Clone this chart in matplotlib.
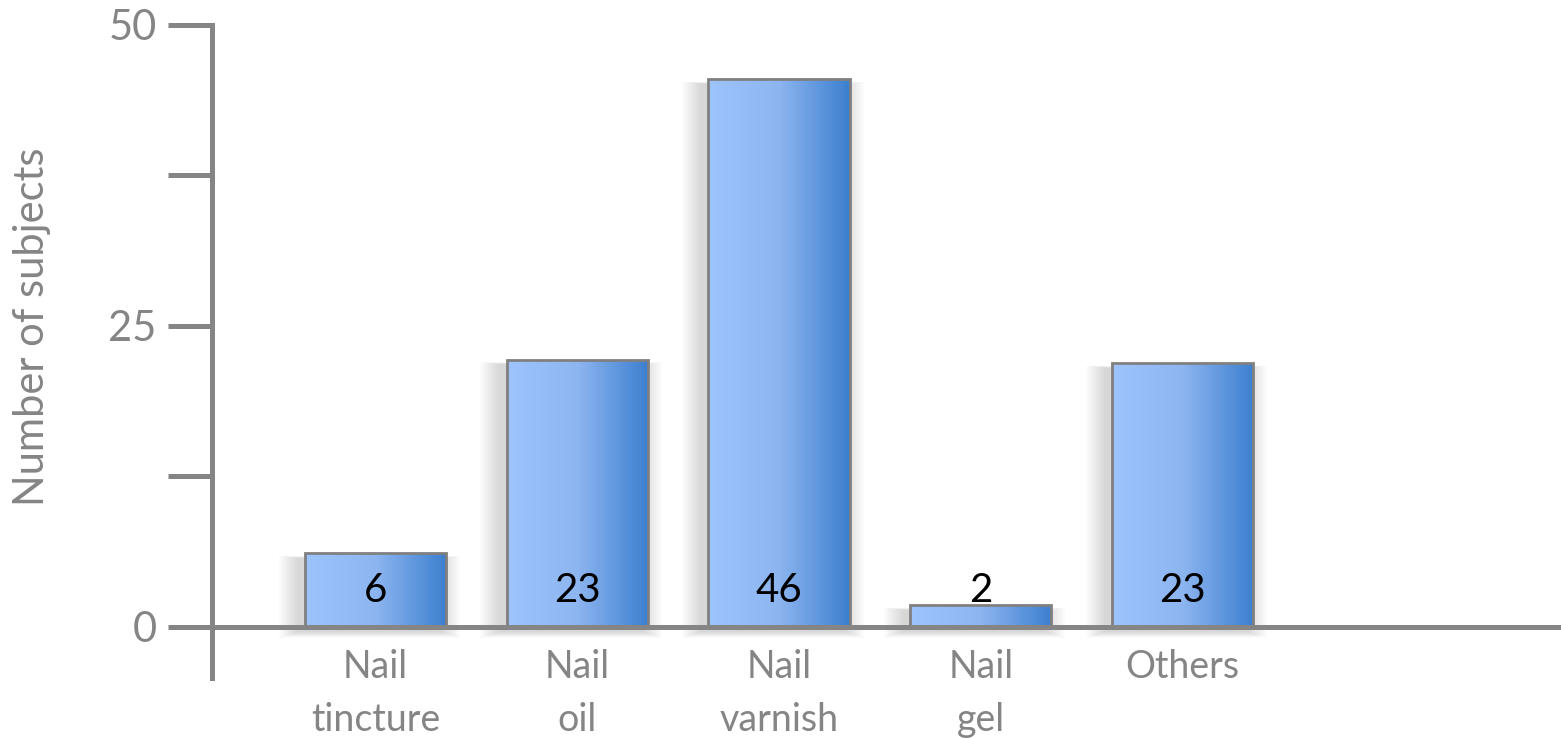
import numpy as np
import matplotlib.pyplot as plt
from matplotlib.patches import Rectangle
from matplotlib.colors import LinearSegmentedColormap

# data
categories = ["Nail\ntincture", "Nail\noil", "Nail\nvarnish", "Nail\ngel", "Others"]
heights = [6.1, 22.2, 45.5, 1.8, 21.9]
labels = ["6", "23", "46", "2", "23"]
yticks = [0, 12.5, 25, 37.5, 50]
yticklabels = ["0", "", "25", "", "50"]

plt.rcParams['font.family'] = ['Lato', 'DejaVu Sans']
grey = '#858585'
cmap = LinearSegmentedColormap.from_list('bar', ['#9dc4fd', '#8db5f0', '#3c7fcf'])
grad = np.linspace(0, 1, 256).reshape(1, -1)

fig = plt.figure(figsize=(15.61, 7.38), dpi=100)
ax = fig.add_axes([212/1561, 1 - 678/738, 1 - 212/1561, (678 - 25)/738])
ax.set_xlim(-0.81, 5.876)
ax.set_ylim(-4.25, 50)

w = 0.7
x = np.arange(len(categories))
for xi, h, lab in zip(x, heights, labels):
    # soft drop shadow, offset to the lower left
    for k in range(10):
        pad = 0.01 * (k + 1)
        ax.add_patch(Rectangle((xi - w/2 - pad - 0.03, -pad*5 - 0.4), w + 2*pad, h + pad*7,
                               facecolor='black', edgecolor='none', alpha=0.016, zorder=1))
    im = ax.imshow(grad, cmap=cmap, extent=[xi - w/2, xi + w/2, 0, h], aspect='auto', zorder=2)
    r = Rectangle((xi - w/2, 0), w, h, facecolor='none', edgecolor='#808080', lw=2, zorder=3)
    ax.add_patch(r)
    im.set_clip_path(r)
    ax.text(xi, 3.0, lab, ha='center', va='center', fontsize=29, color='black', zorder=4)

ax.axhline(0, color=grey, lw=3.6, zorder=5)
for s in ['top', 'right', 'bottom']:
    ax.spines[s].set_visible(False)
ax.spines['left'].set_color(grey)
ax.spines['left'].set_linewidth(3.6)
ax.set_yticks(yticks)
ax.set_yticklabels(yticklabels)
ax.tick_params(axis='y', direction='out', length=32, width=3.6, color=grey,
               labelcolor=grey, labelsize=30, pad=8)
ax.set_xticks(x)
ax.set_xticklabels(categories, linespacing=1.6)
ax.tick_params(axis='x', length=0, labelcolor=grey, labelsize=27, pad=-21)
ax.set_ylabel("Number of subjects", fontsize=30, color=grey)
ax.yaxis.set_label_coords(-0.119, 0.5375)

fig.savefig('out.png', dpi=100)
